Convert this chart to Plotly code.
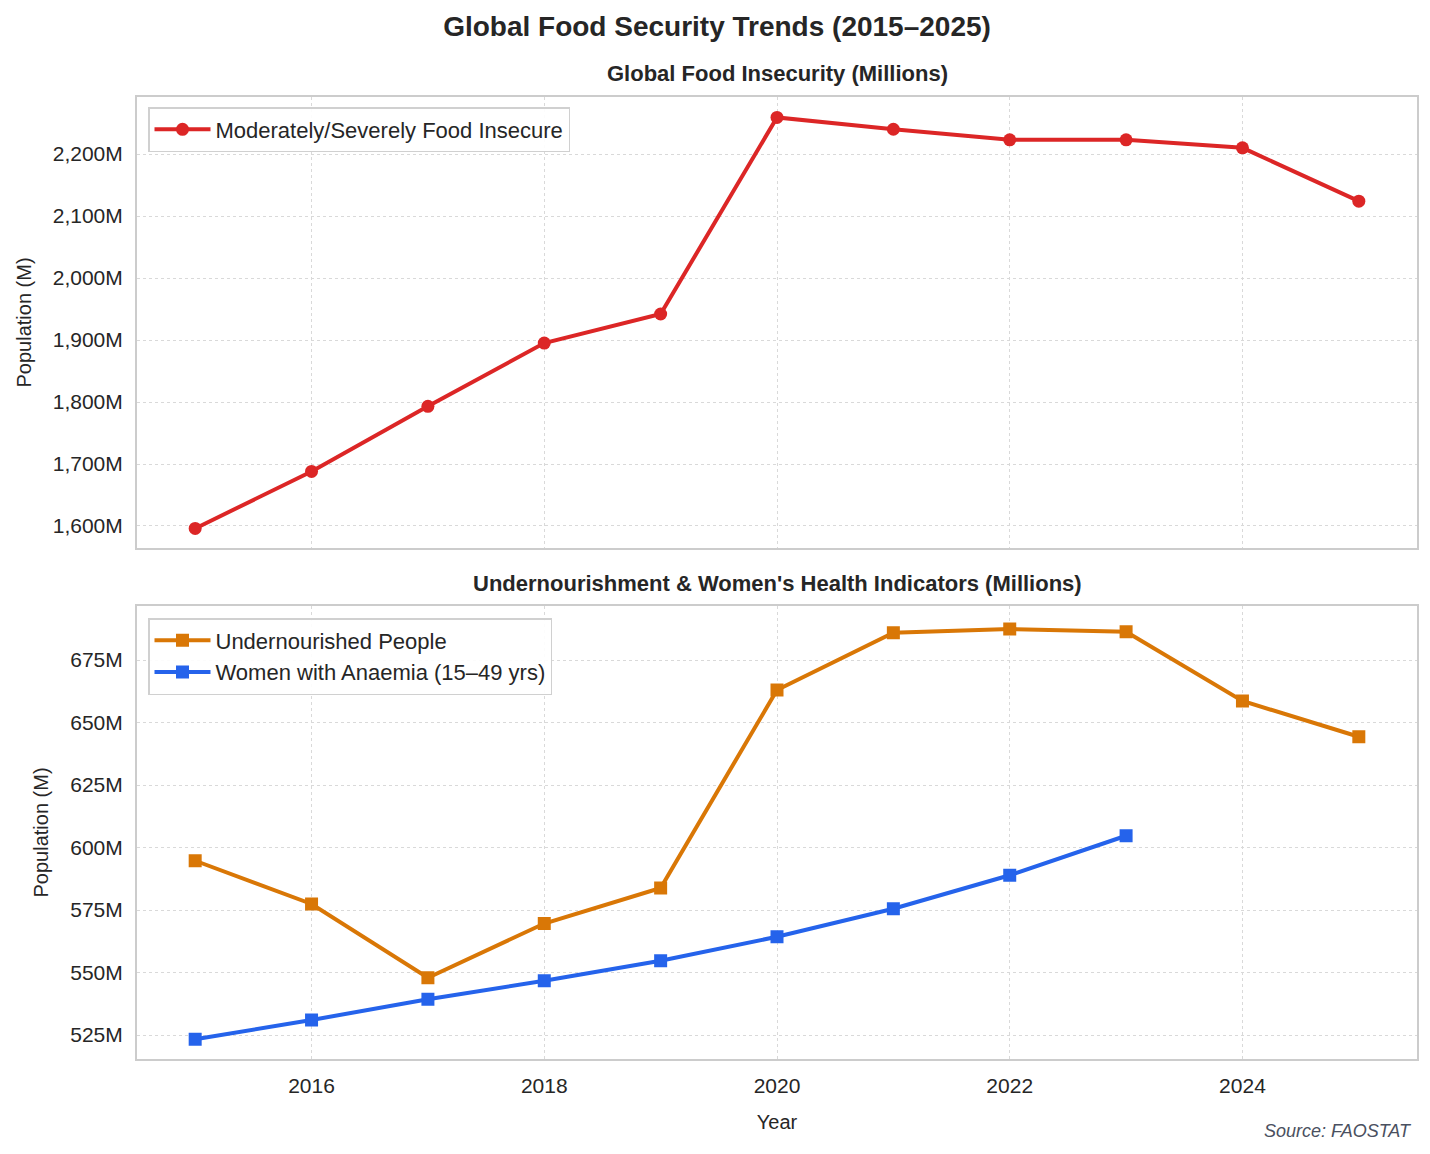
import plotly.graph_objects as go
from plotly.subplots import make_subplots

years = [2015, 2016, 2017, 2018, 2019, 2020, 2021, 2022, 2023, 2024, 2025]
food_insecure = [1596, 1688, 1793, 1895, 1942, 2259, 2240, 2223, 2223, 2210, 2124]
undernourished = [594.7, 577.4, 547.9, 569.6, 583.8, 663.0, 685.9, 687.4, 686.3, 658.6, 644.3]
anaemia_years = [2015, 2016, 2017, 2018, 2019, 2020, 2021, 2022, 2023]
anaemia = [523.3, 531.0, 539.3, 546.7, 554.7, 564.3, 575.5, 588.9, 604.7]

top_ticks = [1600, 1700, 1800, 1900, 2000, 2100, 2200]
top_tick_labels = ["1,600M", "1,700M", "1,800M", "1,900M", "2,000M", "2,100M", "2,200M"]
bottom_ticks = [525, 550, 575, 600, 625, 650, 675]
bottom_tick_labels = ["525M", "550M", "575M", "600M", "625M", "650M", "675M"]
x_ticks = [2016, 2018, 2020, 2022, 2024]

RED = "#dc2626"
ORANGE = "#d97706"
BLUE = "#2563eb"
FONT = "Liberation Sans, Arial, sans-serif"
TXT = "#262626"

# page offset (body margin) compensation
OFF = 7
L, R, T, B = 136 - OFF, 14 + OFF, 96 - OFF, 96 + OFF
PH = 1154 - T - B  # plot height in px


def py(ref_y):
    """paper y from reference pixel y"""
    return (1058 - ref_y) / PH


fig = make_subplots(rows=2, cols=1, shared_xaxes=True)

fig.add_trace(go.Scatter(
    x=years, y=food_insecure, mode="lines+markers",
    name="Moderately/Severely Food Insecure",
    line=dict(color=RED, width=4),
    marker=dict(symbol="circle", size=13, color=RED),
    legend="legend",
), row=1, col=1)

fig.add_trace(go.Scatter(
    x=years, y=undernourished, mode="lines+markers",
    name="Undernourished People",
    line=dict(color=ORANGE, width=4),
    marker=dict(symbol="square", size=13, color=ORANGE),
    legend="legend2",
), row=2, col=1)

fig.add_trace(go.Scatter(
    x=anaemia_years, y=anaemia, mode="lines+markers",
    name="Women with Anaemia (15\u201349 yrs)",
    line=dict(color=BLUE, width=4),
    marker=dict(symbol="square", size=13, color=BLUE),
    legend="legend2",
), row=2, col=1)

axis_common = dict(
    showline=True, mirror=True, linecolor="#cccccc", linewidth=2,
    showgrid=True, gridcolor="#d9d9d9", griddash="dot", gridwidth=1.2,
    zeroline=False, ticks="", tickfont=dict(family=FONT, size=21, color=TXT),
)

fig.update_xaxes(**axis_common)
fig.update_yaxes(**axis_common)

ytitle_font = dict(family=FONT, size=20, color=TXT)

fig.update_layout(
    xaxis=dict(range=[2014.5, 2025.5], tickvals=x_ticks, showticklabels=False, domain=[0, 1]),
    xaxis2=dict(range=[2014.5, 2025.5], tickvals=x_ticks, domain=[0, 1], ticklabelstandoff=7,
                title=dict(text="Year", font=ytitle_font, standoff=19)),
    yaxis=dict(range=[1564.5, 2292], tickvals=top_ticks, ticktext=top_tick_labels,
               domain=[py(547), 1.0], ticklabelstandoff=8,
               title=dict(text="Population (M)", font=ytitle_font, standoff=16)),
    yaxis2=dict(range=[515.4, 696.6], tickvals=bottom_ticks, ticktext=bottom_tick_labels,
                domain=[0.0, py(605)], ticklabelstandoff=8,
                title=dict(text="Population (M)", font=ytitle_font, standoff=16)),
)

legend_common = dict(
    xref="paper", yref="paper", xanchor="left", yanchor="top",
    bgcolor="rgba(255,255,255,0.9)", bordercolor="#d0d0d0", borderwidth=1.5,
    font=dict(family=FONT, size=22, color=TXT), itemwidth=56,
)

fig.update_layout(
    width=1430, height=1154,
    margin=dict(l=L, r=R, t=T, b=B),
    paper_bgcolor="white", plot_bgcolor="white",
    font=dict(family=FONT, color=TXT),
    title=dict(text="<b>Global Food Security Trends (2015\u20132025)</b>",
               font=dict(family=FONT, size=28, color=TXT),
               xref="container", x=(716 - OFF) / 1430, xanchor="center",
               yref="container", y=1 - (25 - OFF) / 1154, yanchor="middle"),
    legend=dict(x=(147 - 136) / 1280, y=py(106), **legend_common),
    legend2=dict(x=(147 - 136) / 1280, y=py(617), **legend_common),
    showlegend=True,
)

fig.add_annotation(text="<b>Global Food Insecurity (Millions)</b>",
                   xref="paper", yref="paper", x=0.5, y=py(72),
                   xanchor="center", yanchor="middle", showarrow=False,
                   font=dict(family=FONT, size=22, color=TXT))
fig.add_annotation(text="<b>Undernourishment &amp; Women's Health Indicators (Millions)</b>",
                   xref="paper", yref="paper", x=0.5, y=py(582),
                   xanchor="center", yanchor="middle", showarrow=False,
                   font=dict(family=FONT, size=22, color=TXT))
fig.add_annotation(text="<i>Source: FAOSTAT</i>",
                   xref="paper", yref="paper", x=(1413 - 136) / 1280, y=py(1130),
                   xanchor="right", yanchor="middle", showarrow=False,
                   font=dict(family=FONT, size=18, color="#4a5060"))

fig.write_html("out.html")
